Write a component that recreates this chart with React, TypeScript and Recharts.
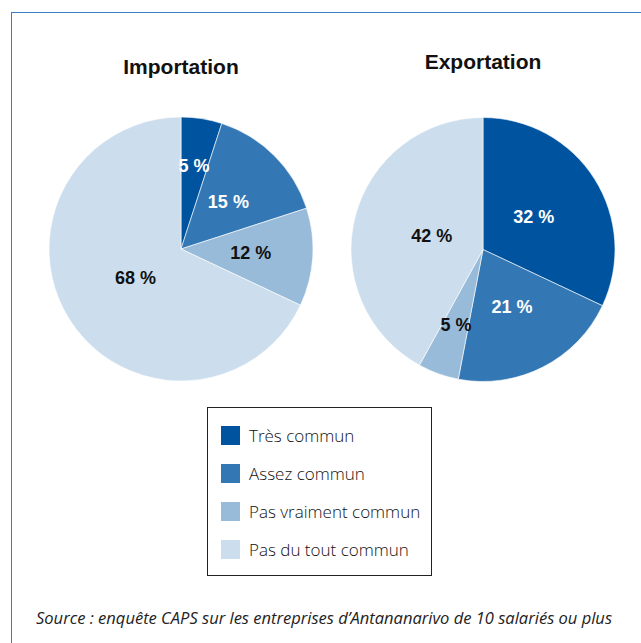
import React from "react";
import { PieChart, Pie, Cell } from "recharts";

// share of firms (%), slices clockwise from 12 o'clock
const categories = ["Très commun", "Assez commun", "Pas vraiment commun", "Pas du tout commun"];
const importation = [5, 15, 12, 68];
const exportation = [32, 21, 5, 42];

const COLORS = ["#00549f", "#3378b4", "#99bbda", "#ccdeed"];
const LABEL_COLORS = ["#ffffff", "#ffffff", "#111111", "#111111"];
// distance of each percentage label from the pie centre, px
const importLabelRadius = [84, 67, 70, 54];
const exportLabelRadius = [60, 64, 80, 53];

const RAD = Math.PI / 180;

const toRows = (values: number[]) =>
  categories.map((name, i) => ({ name, value: values[i] }));

function makeLabel(radii: number[]) {
  return function PctLabel(props: any) {
    const { cx, cy, midAngle, index, value } = props;
    const r = radii[index];
    const x = cx + r * Math.cos(-midAngle * RAD);
    const y = cy + r * Math.sin(-midAngle * RAD);
    return (
      <text
        x={x}
        y={y}
        fill={LABEL_COLORS[index]}
        textAnchor="middle"
        dominantBaseline="central"
        fontFamily="'Liberation Sans', Arial, sans-serif"
        fontWeight="bold"
        fontSize={18}
      >
        {`${value} %`}
      </text>
    );
  };
}

const titleStyle: React.CSSProperties = {
  position: "absolute",
  width: 200,
  textAlign: "center",
  fontFamily: "'Liberation Sans', Arial, sans-serif",
  fontWeight: "bold",
  fontSize: 21,
  color: "#111",
  lineHeight: "24px",
};

export default function App() {
  return (
    <div
      style={{
        position: "absolute",
        left: 0,
        top: 0,
        width: 641,
        height: 643,
        background: "#fff",
        overflow: "hidden",
      }}
    >
      {/* frame: only top and left edges show */}
      <div
        style={{
          position: "absolute",
          left: 11,
          top: 12,
          width: 700,
          height: 700,
          borderTop: "1.5px solid #3a7dc2",
          borderLeft: "1.5px solid #3a7dc2",
        }}
      />

      <div style={{ ...titleStyle, left: 81, top: 55 }}>Importation</div>
      <div style={{ ...titleStyle, left: 383, top: 50 }}>Exportation</div>

      <div style={{ position: "absolute", left: 0, top: 0 }}>
        <PieChart
          width={641}
          height={400}
          margin={{ top: 0, right: 0, bottom: 0, left: 0 }}
        >
          <Pie
            data={toRows(importation)}
            dataKey="value"
            cx={181}
            cy={249}
            outerRadius={132}
            startAngle={90}
            endAngle={-270}
            stroke="#ffffff"
            strokeWidth={0.6}
            labelLine={false}
            label={makeLabel(importLabelRadius)}
            isAnimationActive={false}
          >
            {importation.map((_, i) => (
              <Cell key={i} fill={COLORS[i]} />
            ))}
          </Pie>
          <Pie
            data={toRows(exportation)}
            dataKey="value"
            cx={483}
            cy={249.5}
            outerRadius={132}
            startAngle={90}
            endAngle={-270}
            stroke="#ffffff"
            strokeWidth={0.6}
            labelLine={false}
            label={makeLabel(exportLabelRadius)}
            isAnimationActive={false}
          >
            {exportation.map((_, i) => (
              <Cell key={i} fill={COLORS[i]} />
            ))}
          </Pie>
        </PieChart>
      </div>

      {/* legend */}
      <div
        style={{
          position: "absolute",
          left: 207,
          top: 407,
          width: 225,
          height: 169,
          border: "1.5px solid #222",
          boxSizing: "border-box",
        }}
      >
        {categories.map((c, i) => (
          <div
            key={c}
            style={{
              position: "absolute",
              left: 13,
              top: 17 + i * 38,
              height: 20,
              display: "flex",
              alignItems: "center",
              whiteSpace: "nowrap",
            }}
          >
            <div style={{ width: 19, height: 19, background: COLORS[i] }} />
            <span
              style={{
                marginLeft: 9,
                fontFamily: "'Open Sans', 'Noto Sans', sans-serif",
                fontWeight: 300,
                fontSize: 17,
                color: "#111",
              }}
            >
              {c}
            </span>
          </div>
        ))}
      </div>

      <svg
        width={641}
        height={40}
        style={{ position: "absolute", left: 0, top: 600 }}
      >
        <text
          x={36}
          y={24}
          textLength={576}
          lengthAdjust="spacingAndGlyphs"
          fontFamily="'Open Sans', 'Noto Sans', sans-serif"
          fontStyle="italic"
          fontSize={17}
          fill="#222"
        >
          Source : enquête CAPS sur les entreprises d’Antananarivo de 10 salariés ou plus
        </text>
      </svg>
    </div>
  );
}
